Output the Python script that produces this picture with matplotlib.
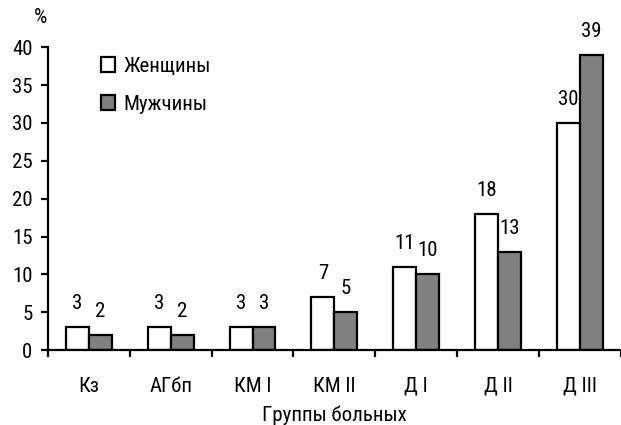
import matplotlib
matplotlib.use("Agg")
import matplotlib.pyplot as plt
import numpy as np

plt.rcParams['font.family'] = ['Roboto Condensed', 'PT Sans Narrow', 'DejaVu Sans']

categories = ["Кз", "АГбп", "КМ I", "КМ II", "Д I", "Д II", "Д III"]
women = [3, 3, 3, 7, 11, 18, 30]
men = [2, 2, 3, 5, 10, 13, 39]
yticks = [0, 5, 10, 15, 20, 25, 30, 35, 40]

fs = 15
fig = plt.figure(figsize=(6.21, 4.25), dpi=100)
ax = fig.add_axes([0.077, 0.176, 0.923, 0.713])

x = np.arange(len(categories))
w = 0.28
ax.bar(x - w / 2, women, w, color="white", edgecolor="black", linewidth=1.6, label="Женщины")
ax.bar(x + w / 2, men, w, color="#808080", edgecolor="black", linewidth=1.6, label="Мужчины")

for xi, v in zip(x - w / 2, women):
    ax.annotate(str(v), (xi, v), xytext=(0, 14), textcoords="offset pixels",
                ha="center", va="bottom", fontsize=fs)
for xi, v in zip(x + w / 2, men):
    ax.annotate(str(v), (xi, v), xytext=(0, 14), textcoords="offset pixels",
                ha="center", va="bottom", fontsize=fs)

ax.set_xlim(-0.5, len(categories) - 0.5)
ax.set_ylim(0, 40)
ax.set_yticks(yticks)
ax.tick_params(axis="y", labelsize=fs, length=5, width=1.6, direction="out", pad=6)

# boundary ticks between groups, names in the middle
ax.set_xticks(np.arange(len(categories) + 1) - 0.5)
ax.set_xticklabels([])
ax.tick_params(axis="x", length=5, width=1.6, direction="out")
ax.set_xticks(x, minor=True)
ax.set_xticklabels(categories, minor=True, fontsize=fs)
ax.tick_params(axis="x", which="minor", length=0, pad=19)

ax.spines["top"].set_visible(False)
ax.spines["right"].set_visible(False)
ax.spines["left"].set_linewidth(1.6)
ax.spines["bottom"].set_linewidth(1.6)

ax.set_xlabel("Группы больных", fontsize=fs, labelpad=7)
fig.text(0.066, 0.958, "%", fontsize=fs, ha="center", va="center")

ax.legend(loc="upper left", bbox_to_anchor=(0.163, 0.866), bbox_transform=fig.transFigure,
          frameon=False, fontsize=fs, borderpad=0, borderaxespad=0,
          handlelength=0.68, handleheight=0.68, handletextpad=0.4, labelspacing=0.9)

fig.savefig("out.png", dpi=100)
